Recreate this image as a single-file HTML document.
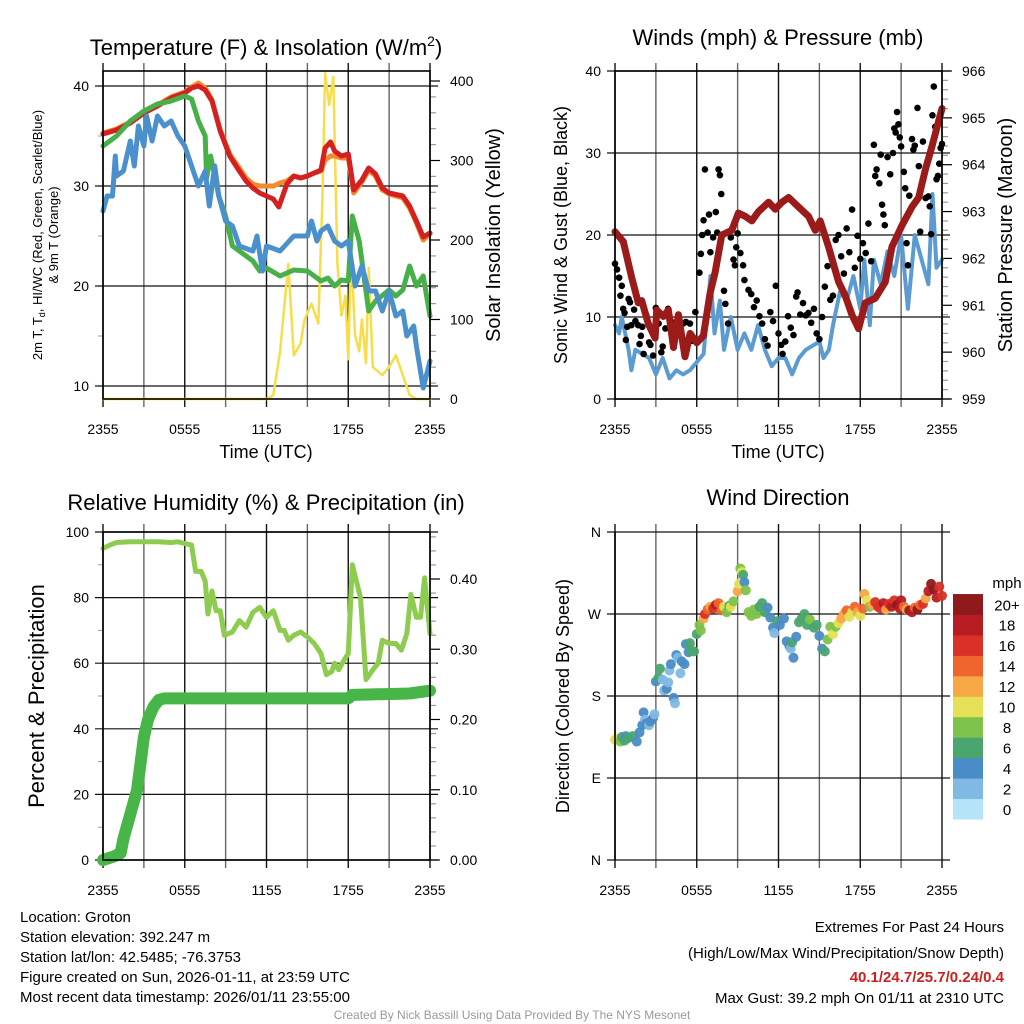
<!DOCTYPE html>
<html><head><meta charset="utf-8"><style>
body{margin:0;background:#fff;}
svg{display:block;font-family:"Liberation Sans",sans-serif;}
</style></head><body>
<svg id="s" width="1024" height="1024" viewBox="0 0 1024 1024"></svg>
<script>
// ---------- DATA ----------
const timeTicks = ["2355","0555","1155","1755","2355"];
const tempRed = [[0,35.2],[1,35.6],[2,36.3],[3,37.3],[4,38],[5,38.8],[6,39.3],[6.5,39.8],[7,40],[7.5,39.6],[8,38.5],[8.6,35.5],[9.3,33],[10,31.5],[10.5,30.5],[11,29.8],[11.5,29.3],[12,29],[12.5,28.7],[12.9,27.9],[13.5,30.2],[14,31],[14.5,30.8],[15,31],[15.5,31.3],[16,31.6],[16.3,33.8],[16.7,34.4],[17,33.5],[17.5,33],[18,33.2],[18.4,29.6],[19,30.6],[19.5,31.8],[20,31.2],[20.5,29.8],[21,29.3],[22,29],[22.5,28],[23,26.5],[23.5,24.9],[24,25.3]];
const tempOrange = [[0,35.3],[1,35.7],[2,36.4],[3,37.4],[4,38.1],[5,38.9],[6,39.4],[6.5,39.9],[7,40.3],[7.5,39.8],[8,38.6],[8.6,35.6],[9.3,33.2],[10,31.8],[10.5,30.8],[11,30.2],[11.5,30],[12,30],[12.5,30],[13,30.3],[13.5,30.5],[14,31],[14.5,30.8],[15,31],[15.5,31.3],[16,31.5],[16.3,32.6],[16.7,33],[17,33],[17.5,32.8],[18,32.8],[18.4,29.3],[19,30.4],[19.5,31.6],[20,31],[20.5,29.6],[21,29.2],[22,28.8],[22.5,27.8],[23,26.3],[23.5,24.6],[24,25.2]];
const tempGreen = [[0,34],[1,35],[2,36.5],[3,37.5],[4,38.2],[5,38.5],[6,39],[6.5,38.7],[7,36.5],[7.5,35],[7.6,30.8],[7.9,33],[8.5,29],[9,27],[9.5,24],[10,23.5],[11,22.5],[11.5,21.5],[12,21.8],[13,21],[14,21.6],[15,21.5],[16,20.5],[16.5,20.8],[17,20],[17.5,20.6],[18,20.5],[18.3,27],[18.8,24.5],[19.5,17.5],[20,18.5],[21,19.6],[21.5,19],[22,19.6],[22.5,22],[23,20],[23.5,21],[24,17]];
const tempBlue = [[0,27.5],[0.3,29],[0.7,29],[0.9,33],[1,31],[1.5,31.5],[2,34.5],[2.3,32],[2.6,36],[3,34],[3.2,37],[3.6,34.5],[4,37],[4.5,36],[5,36.5],[5.5,35],[6,34],[6.5,32],[7,30],[7.5,31.5],[7.8,28],[8.2,32],[8.5,29],[9,26.5],[9.5,26],[10,24],[11,23.5],[11.3,25],[11.7,21.5],[12,24],[13,23.5],[14,25],[15,25],[15.3,26.5],[15.7,24.5],[16,25.5],[16.5,26],[17,24.5],[17.5,24],[18,24.5],[18.5,20],[19,22],[19.5,19.5],[20,19.5],[20.5,17.5],[21,19.5],[21.5,17],[22,17.5],[22.3,15],[22.8,16],[23,14],[23.5,9.8],[24,12.5]];
const solar = [[0,0],[6,0],[12,0],[12.5,5],[13,60],[13.6,170],[14,55],[14.5,70],[14.8,100],[15.3,120],[15.8,95],[16.1,250],[16.3,410],[16.6,370],[16.9,405],[17.2,170],[17.5,105],[17.8,130],[18,50],[18.2,190],[18.5,80],[18.8,60],[19,100],[19.3,45],[19.5,165],[19.8,40],[20.5,30],[21,40],[21.5,55],[22,30],[22.5,5],[23,0],[24,0]];
const windSpeed = [[0,9],[0.3,8],[0.5,10],[1,6],[1.2,3.5],[1.5,6],[2,5.5],[2.5,5],[3,3],[3.5,5],[4,2.5],[4.5,3.5],[5,3],[5.5,3.5],[6,4.5],[6.5,5.5],[7,15],[7.3,8],[7.7,12],[8,6],[8.5,10],[9,6],[9.5,8],[10,6],[10.5,9],[11,6],[11.5,4],[12,5],[12.5,5],[13,3],[13.5,5],[14,6],[15,7],[15.3,5],[15.7,6],[16,9],[16.5,13],[17,12],[17.5,15],[18,11],[18.3,17],[18.7,9],[19,17],[19.5,14],[20,18],[20.5,15],[21,20],[21.5,11],[22,20],[22.5,17],[23,14],[23.3,25],[23.6,16],[24,17]];
const gusts = [[0,16.5],[0.15,15.8],[0.3,14.8],[0.4,12.6],[0.5,13.8],[0.6,11],[0.7,10.5],[0.8,7.2],[0.9,8.8],[1,12.2],[1.1,11.8],[1.2,9],[1.4,10.9],[1.5,9.5],[1.7,9],[1.8,6.7],[1.9,7.7],[2,8.8],[2.1,5.5],[2.3,10.2],[2.5,6.9],[2.6,6.6],[2.8,5.3],[3,11.1],[3.2,9.2],[3.4,5.7],[3.5,6.4],[3.7,8.6],[3.9,11],[4.1,9.5],[4.3,7],[4.5,8.2],[4.8,8.6],[5,9.2],[5.2,9.4],[5.5,9.2],[5.7,7.1],[5.9,10.6],[6.2,15.4],[6.3,17.7],[6.4,20],[6.5,21.8],[6.6,28],[6.8,20.3],[6.9,22.5],[7,17.9],[7.2,19.7],[7.4,22.8],[7.5,20.3],[7.6,28],[7.7,27.3],[7.8,25],[8,13.2],[8.1,11.6],[8.3,9.2],[8.5,19.7],[8.7,17],[8.8,16.3],[8.9,18.5],[9,20.2],[9.2,17.8],[9.4,16.3],[9.5,14.5],[9.8,13.3],[10,12.8],[10.2,11.2],[10.4,12],[10.6,10.1],[10.8,9.2],[11,7.3],[11.2,6.5],[11.4,10.6],[11.6,9.5],[11.8,13.8],[12,8],[12.2,6.6],[12.3,5.5],[12.5,7],[12.7,10.1],[12.9,8.7],[13.1,7.8],[13.3,12.5],[13.4,13],[13.6,10.3],[13.8,11.7],[14,10.2],[14.2,10.5],[14.4,9.3],[14.6,11],[14.8,8],[15,7.3],[15.2,10],[15.4,13.7],[15.6,16.2],[15.8,12.1],[16,12.6],[16.2,19.4],[16.4,20],[16.6,17.4],[16.8,15.3],[17,20.8],[17.2,17.9],[17.4,23.1],[17.6,16],[17.8,19.9],[18,17.1],[18.2,19],[18.4,17.8],[18.6,21.4],[18.8,16.8],[19,31],[19.1,27.2],[19.2,28],[19.4,26.3],[19.5,29.8],[19.6,23.7],[19.7,22.5],[19.8,21.2],[20,29.5],[20.2,27.4],[20.4,30],[20.5,33],[20.6,32.5],[20.7,35],[20.8,33.5],[20.9,31.9],[21,30.8],[21.2,27.7],[21.3,25.7],[21.4,19],[21.5,16.3],[21.6,24.8],[21.8,31.7],[21.9,30.4],[22,30.9],[22.2,35.5],[22.3,28.4],[22.4,20.4],[22.6,31.4],[22.8,24.5],[23,24.7],[23.1,23.5],[23.2,20.1],[23.3,34.6],[23.4,38.1],[23.5,33.2],[23.6,26.8],[23.7,27.2],[23.8,28.7],[23.9,30.6],[24,31.1]];
const pressure = [[0,962.57],[0.61,962.36],[1.22,961.6],[1.71,961.05],[1.96,961.1],[2.45,960.6],[2.94,960.3],[3.06,960.9],[3.55,960.76],[3.92,960.9],[4.29,960.1],[4.65,960.8],[5.14,959.9],[5.51,960.4],[6,960.2],[6.49,960.35],[6.98,961.26],[7.35,961.7],[7.84,962.5],[8.57,962.6],[9.06,962.97],[9.55,962.9],[10.04,962.8],[10.53,963],[11.27,963.2],[11.76,963.05],[12.25,963.2],[12.74,963.3],[13.47,963.1],[14.2,962.9],[14.69,962.6],[15.06,962.8],[15.67,962.25],[16.41,961.5],[16.9,961.2],[17.39,960.8],[17.88,960.5],[18.37,961.05],[19.1,961.15],[19.84,961.5],[20.33,962.25],[21.06,962.7],[21.8,963.1],[22.29,963.3],[22.78,963.9],[23.27,964.4],[23.63,964.8],[24,965.2]];
const rh = [[0,95],[0.5,96],[1,96.8],[2,97],[3,97],[4,97],[5,96.8],[5.5,97],[6,96.5],[6.5,96],[6.8,88],[7.2,88],[7.5,85],[7.7,75],[8,82],[8.3,76],[8.6,76],[8.9,68.5],[9.5,69.5],[10,73],[10.5,71],[11,75.5],[11.5,77],[12,74],[12.5,76],[13,70],[13.3,70],[13.6,67],[14,68.5],[14.5,69.5],[15,68],[15.5,66],[16,63],[16.4,56.5],[16.8,57.5],[17,60],[17.3,58],[17.7,61],[18,63],[18.3,90],[18.6,85],[18.9,80],[19.3,55],[19.8,58],[20.2,60],[20.5,67],[21,66],[21.5,66],[21.9,64],[22.3,69],[22.6,81],[23,74],[23.3,74],[23.6,86],[24,69]];
const precip = [[0,0],[0.8,0.005],[1.3,0.01],[1.5,0.03],[2,0.065],[2.5,0.1],[3,0.175],[3.3,0.2],[3.7,0.218],[4.1,0.228],[4.5,0.23],[10,0.23],[15,0.23],[18,0.23],[18.3,0.235],[22.5,0.237],[24,0.241]];
const windDir = [[0,132,10],[0.2,133,10],[0.4,130,9],[0.5,135,6],[0.7,131,6],[0.8,136,4],[1,134,6],[1.3,136,6],[1.6,130,4],[1.8,140,4],[2,148,4],[2.1,162,4],[2.2,154,3],[2.3,150,4],[2.5,148,2],[2.6,152,4],[2.8,156,4],[2.9,160,2],[3,196,4],[3.2,200,6],[3.3,210,6],[3.5,198,2],[3.6,186,2],[3.8,188,4],[3.9,195,2],[4,208,2],[4.1,215,4],[4.3,178,4],[4.4,172,2],[4.5,225,4],[4.6,222,2],[4.8,205,2],[4.9,218,4],[5.1,215,4],[5.2,237,4],[5.4,228,4],[5.5,238,6],[5.6,230,6],[5.8,229,6],[6,248,6],[6.2,258,8],[6.3,252,8],[6.5,265,12],[6.6,270,17],[6.8,275,14],[7,278,13],[7.2,276,16],[7.4,280,19],[7.6,282,15],[7.8,274,14],[8,278,10],[8.2,272,8],[8.4,279,6],[8.5,278,10],[8.7,284,9],[9,295,12],[9.1,303,11],[9.2,320,9],[9.3,316,10],[9.4,313,6],[9.5,305,4],[9.6,296,8],[9.8,272,8],[10,268,8],[10.2,275,8],[10.4,270,8],[10.6,278,6],[10.8,282,6],[11,272,6],[11.2,277,4],[11.4,266,4],[11.6,255,4],[11.7,249,2],[11.9,262,6],[12.1,258,4],[12.4,265,4],[12.6,240,4],[12.8,235,4],[12.9,232,2],[13,239,6],[13.1,222,4],[13.3,245,4],[13.5,261,6],[13.7,265,6],[13.9,270,6],[14.1,258,6],[14.3,264,8],[14.6,255,6],[14.8,258,6],[15,246,4],[15.2,232,4],[15.4,229,6],[15.6,242,8],[15.8,256,8],[16,248,10],[16.2,256,8],[16.4,260,10],[16.6,265,13],[16.8,270,12],[17,274,14],[17.2,267,10],[17.4,272,10],[17.6,278,14],[17.8,272,12],[18,268,10],[18.2,276,15],[18.3,292,12],[18.5,285,10],[18.7,278,8],[18.9,280,12],[19.1,283,17],[19.3,278,17],[19.5,276,16],[19.7,282,18],[19.9,275,13],[20.1,281,16],[20.3,278,18],[20.5,285,17],[20.7,280,20],[20.9,276,18],[21,285,19],[21.2,278,15],[21.4,275,13],[21.6,274,20],[21.8,272,19],[22,277,14],[22.2,275,20],[22.4,280,15],[22.6,281,17],[22.8,287,12],[23,295,18],[23.2,303,20],[23.4,297,20],[23.6,288,18],[23.8,300,16],[24,290,17]];
const speedColors = ["#b5e3f8","#80b9e3","#4a8cc6","#4aa56e","#7dc24b","#e5e055","#f5a844","#f0642d","#d93127","#b71c23","#8e1a1c"];
const speedLabels = ["0","2","4","6","8","10","12","14","16","18","20+"];

// ---------- HELPERS ----------
const NS="http://www.w3.org/2000/svg";
const svg=document.getElementById('s');
function mk(tag,attrs,parent){const e=document.createElementNS(NS,tag);for(const k in attrs)e.setAttribute(k,attrs[k]);(parent||svg).appendChild(e);return e;}
function txt(x,y,s,size,anchor,extra){const t=mk('text',Object.assign({x:x,y:y,'font-size':size,'text-anchor':anchor||'middle',fill:'#000'},extra||{}));t.textContent=s;return t;}
function line(x1,y1,x2,y2,c,w){return mk('line',{x1,y1,x2,y2,stroke:c,'stroke-width':w});}

function panel(p){
  const xs=h=>p.x0+(p.x1-p.x0)*h/24;
  for(let h=0;h<=24;h+=3){const g=line(xs(h),p.top-8,xs(h),p.bot+8,(h%6===0)?'#111':'#666',1.4);
    }
  timeTicks.forEach((l,i)=>{const t=txt(xs(i*6),p.bot+35,l,14);
    });
  return xs;
}
function hgrid(p,y,label){const g=line(p.x0-8,y,p.x1+8,y,'#111',1.2);
  
  if(label!==null){const t=txt(p.x0-14,y+5,label,14,'end');}}
function frame(p){const r=mk('rect',{x:p.x0,y:p.top,width:p.x1-p.x0,height:p.bot-p.top,fill:'none',stroke:'#000','stroke-width':1.6});
  }
function path(pts,xs,ys,c,w,name){const d=pts.map((q,i)=>(i?'L':'M')+xs(q[0]).toFixed(1)+','+ys(q[1]).toFixed(1)).join('');
  const e=mk('path',{d:d,fill:'none',stroke:c,'stroke-width':w,'stroke-linejoin':'round','stroke-linecap':'round'});
  return e;}
function rightAxis(p,ys,major,minor,lo,hi,fmt){
  for(let v=lo;v<=hi+1e-9;v+=minor){const isM=Math.abs(Math.round(v/major)*major-v)<1e-6;
    const y=ys(v);if(y<p.top-10||y>p.bot+0.5)continue;
    line(p.x1,y,p.x1+(isM?10:6),y,isM?'#000':'#999',1.2);
    if(isM){const t=txt(p.x1+20,y+5,fmt(v),14,'start');}}
}
function vtitle(x,y,s,size,name){const t=txt(x,y,s,size,'middle',{transform:`rotate(-90 ${x} ${y})`});
  return t;}

// ---------- PANEL 1: Temperature ----------
{const p={x0:103,x1:430,top:71,bot:399};const xs=panel(p);
 const ys=v=>399-(v-8.7)*10, ysR=s=>399-s*0.795;
 [10,20,30,40].forEach(v=>hgrid(p,ys(v),String(v)));
 for(let v=15;v<=35;v+=10)line(p.x0-5,ys(v),p.x0,ys(v),'#999',1);
 rightAxis(p,ysR,100,20,0,400,v=>String(Math.round(v)));
 path(solar,xs,ysR,'#f7dd4a',2.5,'solar-insolation-line');
 path(tempOrange,xs,ys,'#f28a2e',5,'temp-9m-line');
 path(tempRed,xs,ys,'#d42020',5,'temp-2m-line');
 path(tempGreen,xs,ys,'#48b048',5,'hi-wc-line');
 path(tempBlue,xs,ys,'#4a90cc',5,'dewpoint-line');
 frame(p);
 const t=txt(266,55,'Temperature (F) & Insolation (W/m',22);
 const ts=mk('tspan',{dy:-9,'font-size':14},t);ts.textContent='2';const ts2=mk('tspan',{dy:9},t);ts2.textContent=')';
 const a=txt(42,235,'',13,'middle',{transform:'rotate(-90 42 235)'});
 a.innerHTML='2m T, T<tspan font-size="9" dy="3">d</tspan><tspan dy="-3">, HI/WC (Red, Green, Scarlet/Blue)</tspan>';
 vtitle(58,235,'& 9m T (Orange)',13,'temp-y-axis-title-2');
 vtitle(500,235,'Solar Insolation (Yellow)',20,'solar-y-axis-title');
 const x=txt(266,458,'Time (UTC)',18);
}
// ---------- PANEL 2: Winds ----------
{const p={x0:615,x1:942,top:71,bot:399};const xs=panel(p);
 const ys=v=>399-v*8.2, ysR=v=>399-(v-959)*46.857;
 [0,10,20,30,40].forEach(v=>hgrid(p,ys(v),String(v)));
 rightAxis(p,ysR,1,0.2,959,966,v=>String(Math.round(v)));
 path(windSpeed,xs,ys,'#5b9bd1',4,'sonic-wind-line');
 gusts.forEach(g=>{const c=mk('circle',{cx:xs(g[0]),cy:ys(g[1]),r:3.3,fill:'#000'});
   });
 path(pressure,xs,ysR,'#9b1a1a',7,'pressure-line');
 frame(p);
 const t=txt(778,45,'Winds (mph) & Pressure (mb)',22);
 vtitle(567,235,'Sonic Wind & Gust (Blue, Black)',18,'wind-y-axis-title');
 vtitle(1012,235,'Station Pressure (Maroon)',20,'pressure-y-axis-title');
 const x=txt(778,458,'Time (UTC)',18);
}
// ---------- PANEL 3: RH ----------
{const p={x0:103,x1:430,top:532,bot:860};const xs=panel(p);
 const ys=v=>860-v*3.28, ysR=v=>860-v*702.5;
 [0,20,40,60,80,100].forEach(v=>hgrid(p,ys(v),String(v)));
 for(let v=10;v<=90;v+=20)line(p.x0-5,ys(v),p.x0,ys(v),'#999',1);
 rightAxis(p,ysR,0.1,0.02,0,0.46,v=>v.toFixed(2));
 path(rh,xs,ys,'#8dcc4e',5,'relative-humidity-line');
 path(precip,xs,ysR,'#48b548',12,'precipitation-line');
 frame(p);
 const t=txt(266,510,'Relative Humidity (%) & Precipitation (in)',22);
 vtitle(44,696,'Percent & Precipitation',22,'rh-y-axis-title');
}
// ---------- PANEL 4: Wind direction ----------
{const p={x0:615,x1:942,top:532,bot:860};const xs=panel(p);
 const ys=d=>860-d*0.91111;
 [['N',360],['W',270],['S',180],['E',90],['N',0]].forEach(q=>hgrid(p,ys(q[1]),q[0]));
 windDir.forEach(w=>{const bin=Math.min(10,Math.floor(w[2]/2));
   const c=mk('circle',{cx:xs(w[0]),cy:ys(w[1]),r:5,fill:speedColors[bin],'fill-opacity':0.95});
   });
 line(p.x0,p.top,p.x0,p.bot,'#000',1.6);
 const t=txt(778,505,'Wind Direction',22);
 vtitle(569,696,'Direction (Colored By Speed)',18,'winddir-y-axis-title');
 const bh=20.45;
 speedColors.forEach((c,i)=>{const y=819-(i+1)*bh;
   const r=mk('rect',{x:953,y:y,width:30,height:bh+0.5,fill:c});
   
   const l=txt(1007,y+bh/2+6,speedLabels[i],15);});
 const m=txt(1007,588,'mph',15);
}
// ---------- FOOTER ----------
["Location: Groton","Station elevation: 392.247 m","Station lat/lon: 42.5485; -76.3753","Figure created on Sun, 2026-01-11, at 23:59 UTC","Most recent data timestamp: 2026/01/11 23:55:00"].forEach((s,i)=>{
  const t=txt(20,922+i*20,s,15,'start');});
{let t=txt(1004,932,'Extremes For Past 24 Hours',15,'end');
 t=txt(1004,958,'(High/Low/Max Wind/Precipitation/Snow Depth)',15,'end');
 t=txt(1004,982,'40.1/24.7/25.7/0.24/0.4',15,'end',{fill:'#cc1f1f','font-weight':'bold'});
 t=txt(1004,1003,'Max Gust: 39.2 mph On 01/11 at 2310 UTC',15,'end');
 t=txt(512,1019,'Created By Nick Bassill Using Data Provided By The NYS Mesonet',12,'middle',{fill:'#999'});}
</script>
</body></html>
